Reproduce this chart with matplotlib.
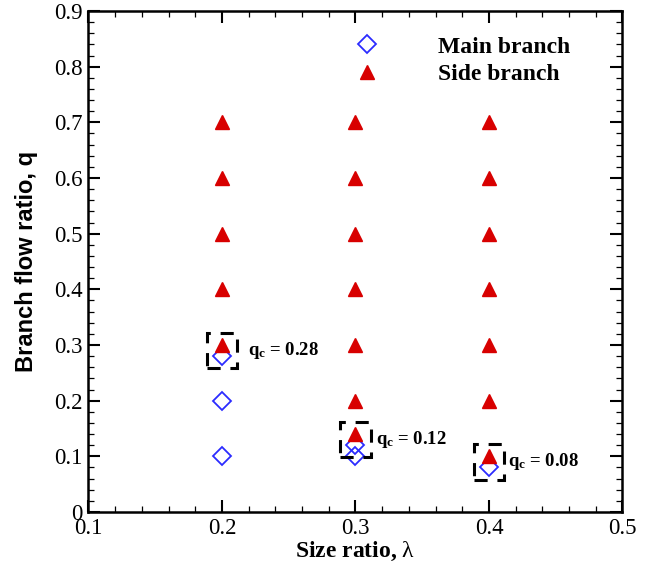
import matplotlib
matplotlib.use('Agg')
import matplotlib.pyplot as plt
from matplotlib.patches import Rectangle
from matplotlib.ticker import MultipleLocator, FuncFormatter

plt.rcParams['font.family'] = 'Liberation Serif'
plt.rcParams['mathtext.fontset'] = 'custom'
plt.rcParams['mathtext.rm'] = 'Liberation Serif'
plt.rcParams['mathtext.bf'] = 'Liberation Serif:bold'
plt.rcParams['mathtext.it'] = 'Liberation Serif:italic'

# main branch (open diamonds)
main_size = [0.2, 0.2, 0.2, 0.3, 0.3, 0.4]
main_q = [0.10, 0.20, 0.28, 0.10, 0.12, 0.08]

# side branch (filled triangles)
side_size = [0.2, 0.2, 0.2, 0.2, 0.2,
             0.3, 0.3, 0.3, 0.3, 0.3, 0.3, 0.3,
             0.4, 0.4, 0.4, 0.4, 0.4, 0.4, 0.4]
side_q = [0.3, 0.4, 0.5, 0.6, 0.7,
          0.14, 0.2, 0.3, 0.4, 0.5, 0.6, 0.7,
          0.1, 0.2, 0.3, 0.4, 0.5, 0.6, 0.7]

# critical flow ratio for each size ratio
qc_size = [0.2, 0.3, 0.4]
qc_value = [0.28, 0.12, 0.08]
qc_labels = ['0.28', '0.12', '0.08']

# where the qc text sits right of each box (layout only)
label_dx = [0.0195, 0.0155, 0.0145]

fig = plt.figure(figsize=(6.65, 5.68), dpi=100)
ax = fig.add_axes([0.133, 0.0986, 0.803, 0.882])

ax.plot(main_size, main_q, linestyle='none', marker='D', ms=9.3,
        mfc='none', mec='#2b2bff', mew=1.3, label='Main branch')
ax.plot(side_size, side_q, linestyle='none', marker='^', ms=10.5,
        color='#d80000', label='Side branch')

# dashed boxes around the critical points
for x, q, lab, dx in zip(qc_size, qc_value, qc_labels, label_dx):
    r = Rectangle((x - 0.0115, q + 0.01 - 0.032), 0.023, 0.064,
                  fill=False, ec='black', lw=2.2, ls=(0, (4.3, 3.2)), zorder=3)
    ax.add_patch(r)
    ax.text(x + dx, q + 0.01, r'$\mathbf{q_c}$ = ' + lab, fontsize=13.5,
            fontweight='bold', ha='left', va='center')

ax.set_xlim(0.1, 0.5)
ax.set_ylim(0, 0.9)
ax.xaxis.set_major_locator(MultipleLocator(0.1))
ax.xaxis.set_minor_locator(MultipleLocator(0.02))
ax.yaxis.set_major_locator(MultipleLocator(0.1))
ax.yaxis.set_minor_locator(MultipleLocator(0.02))
ax.yaxis.set_major_formatter(FuncFormatter(lambda v, p: '0' if abs(v) < 1e-9 else '%.1f' % v))
ax.xaxis.set_major_formatter(FuncFormatter(lambda v, p: '%.1f' % v))

ax.tick_params(which='both', direction='in', top=True, right=True, labelsize=16.5)
ax.tick_params(which='major', length=8.5, width=1.5, pad=4)
ax.tick_params(which='minor', length=4.5, width=0.9)
for s in ax.spines.values():
    s.set_linewidth(1.8)

ax.set_xlabel(r'Size ratio, $\mathrm{\lambda}$', fontsize=17, fontweight='bold', labelpad=1)
ax.set_ylabel('Branch flow ratio, q', fontsize=17, fontweight='bold',
              family='Liberation Sans')
ax.yaxis.set_label_coords(-0.094, 0.5)

leg = ax.legend(loc='upper left', bbox_to_anchor=(0.499, 0.95), frameon=False,
                borderpad=0, borderaxespad=0, handlelength=1.0, handletextpad=2.5,
                labelspacing=0.27, prop={'size': 17, 'weight': 'bold'})

fig.savefig('out.png', dpi=100)
